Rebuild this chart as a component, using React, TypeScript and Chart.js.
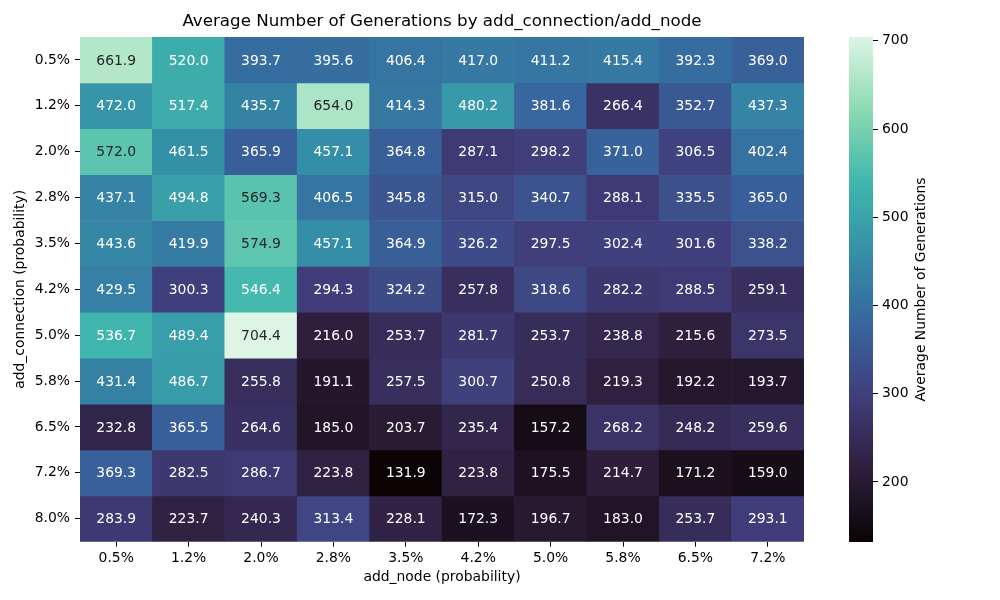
import React, { useEffect, useRef } from "react";
import { Chart, registerables } from "chart.js";

Chart.register(...registerables);

const TITLE = "Average Number of Generations by add_connection/add_node";
const X_TITLE = "add_node (probability)";
const Y_TITLE = "add_connection (probability)";
const CBAR_TITLE = "Average Number of Generations";

const addNodeLabels = ["0.5%", "1.2%", "2.0%", "2.8%", "3.5%", "4.2%", "5.0%", "5.8%", "6.5%", "7.2%"];
const addConnectionLabels = ["0.5%", "1.2%", "2.0%", "2.8%", "3.5%", "4.2%", "5.0%", "5.8%", "6.5%", "7.2%", "8.0%"];

const conn_0_5 = [661.9, 520.0, 393.7, 395.6, 406.4, 417.0, 411.2, 415.4, 392.3, 369.0];
const conn_1_2 = [472.0, 517.4, 435.7, 654.0, 414.3, 480.2, 381.6, 266.4, 352.7, 437.3];
const conn_2_0 = [572.0, 461.5, 365.9, 457.1, 364.8, 287.1, 298.2, 371.0, 306.5, 402.4];
const conn_2_8 = [437.1, 494.8, 569.3, 406.5, 345.8, 315.0, 340.7, 288.1, 335.5, 365.0];
const conn_3_5 = [443.6, 419.9, 574.9, 457.1, 364.9, 326.2, 297.5, 302.4, 301.6, 338.2];
const conn_4_2 = [429.5, 300.3, 546.4, 294.3, 324.2, 257.8, 318.6, 282.2, 288.5, 259.1];
const conn_5_0 = [536.7, 489.4, 704.4, 216.0, 253.7, 281.7, 253.7, 238.8, 215.6, 273.5];
const conn_5_8 = [431.4, 486.7, 255.8, 191.1, 257.5, 300.7, 250.8, 219.3, 192.2, 193.7];
const conn_6_5 = [232.8, 365.5, 264.6, 185.0, 203.7, 235.4, 157.2, 268.2, 248.2, 259.6];
const conn_7_2 = [369.3, 282.5, 286.7, 223.8, 131.9, 223.8, 175.5, 214.7, 171.2, 159.0];
const conn_8_0 = [283.9, 223.7, 240.3, 313.4, 228.1, 172.3, 196.7, 183.0, 253.7, 293.1];

const heatRows = [conn_0_5, conn_1_2, conn_2_0, conn_2_8, conn_3_5, conn_4_2, conn_5_0, conn_5_8, conn_6_5, conn_7_2, conn_8_0];

const colorbarTicks = [200, 300, 400, 500, 600, 700];

const allValues = heatRows.flat();
const vmin = Math.min(...allValues);
const vmax = Math.max(...allValues);

// mako colormap stops
const MAKO: [number, number, number, number][] = [
  [0.0, 11, 4, 5],
  [1 / 7, 46, 30, 59],
  [2 / 7, 65, 61, 123],
  [3 / 7, 55, 101, 158],
  [4 / 7, 52, 143, 167],
  [5 / 7, 64, 183, 173],
  [6 / 7, 139, 218, 178],
  [1.0, 222, 245, 229],
];

function makoRgb(t: number): [number, number, number] {
  t = Math.max(0, Math.min(1, t));
  for (let i = 0; i < MAKO.length - 1; i++) {
    const a = MAKO[i];
    const b = MAKO[i + 1];
    if (t <= b[0]) {
      const f = (t - a[0]) / (b[0] - a[0]);
      return [a[1] + (b[1] - a[1]) * f, a[2] + (b[2] - a[2]) * f, a[3] + (b[3] - a[3]) * f];
    }
  }
  const l = MAKO[MAKO.length - 1];
  return [l[1], l[2], l[3]];
}

function valueRgb(v: number) {
  return makoRgb((v - vmin) / (vmax - vmin));
}

function rgbCss(c: [number, number, number]) {
  return `rgb(${Math.round(c[0])},${Math.round(c[1])},${Math.round(c[2])})`;
}

function luminance(c: [number, number, number]) {
  const lin = c.map((x) => {
    const s = x / 255;
    return s <= 0.03928 ? s / 12.92 : Math.pow((s + 0.055) / 1.055, 2.4);
  });
  return 0.2126 * lin[0] + 0.7152 * lin[1] + 0.0722 * lin[2];
}

const FONT = "DejaVu Sans";
const TICK_SIZE = 13.9;

const heatLabelPlugin = {
  id: "heatLabels",
  afterDatasetsDraw(chart: any) {
    const ctx = chart.ctx;
    ctx.save();
    ctx.font = `${TICK_SIZE}px "${FONT}"`;
    ctx.textAlign = "center";
    ctx.textBaseline = "middle";
    heatRows.forEach((row, r) => {
      const meta = chart.getDatasetMeta(r);
      meta.data.forEach((el: any, c: number) => {
        const v = row[c];
        ctx.fillStyle = luminance(valueRgb(v)) > 0.408 ? "#262626" : "#ffffff";
        ctx.fillText(v.toFixed(1), el.x, (el.y + el.base) / 2 + 1);
      });
    });
    const area = chart.chartArea;
    ctx.fillStyle = "#000";
    ctx.font = `16.7px "${FONT}"`;
    ctx.fillText(TITLE, (area.left + area.right) / 2, 22);
    ctx.restore();
  },
};

const cbarTitlePlugin = {
  id: "cbarTitle",
  afterDraw(chart: any) {
    const ctx = chart.ctx;
    const area = chart.chartArea;
    ctx.save();
    ctx.font = `${TICK_SIZE}px "${FONT}"`;
    ctx.fillStyle = "#000";
    ctx.textAlign = "center";
    ctx.textBaseline = "middle";
    ctx.translate(121, (area.top + area.bottom) / 2);
    ctx.rotate(-Math.PI / 2);
    ctx.fillText(CBAR_TITLE, 0, 0);
    ctx.restore();
  },
};

export default function App() {
  const heatRef = useRef<HTMLCanvasElement>(null);
  const cbarRef = useRef<HTMLCanvasElement>(null);

  useEffect(() => {
    const font = { family: FONT, size: TICK_SIZE };
    const heat = new Chart(heatRef.current as HTMLCanvasElement, {
      type: "bar",
      data: {
        labels: addNodeLabels,
        datasets: heatRows.map((row, r) => ({
          label: addConnectionLabels[r],
          data: row.map(() => [r, r + 1]),
          backgroundColor: row.map((v) => rgbCss(valueRgb(v))),
          borderWidth: 0,
          grouped: false,
          barPercentage: 1,
          categoryPercentage: 1,
        })) as any,
      },
      options: {
        animation: false,
        responsive: false,
        devicePixelRatio: 1,
        layout: { padding: { top: 37, right: 196, left: 0, bottom: 0 } },
        plugins: { legend: { display: false }, tooltip: { enabled: false }, title: { display: false } },
        scales: {
          x: {
            type: "category",
            grid: { offset: false, drawOnChartArea: false, drawTicks: true, tickLength: 5, color: "#000", lineWidth: 1 },
            border: { display: false },
            ticks: { font, color: "#000", maxRotation: 0, autoSkip: false, padding: 3 },
            title: { display: true, text: X_TITLE, font, color: "#000", padding: { top: 0, bottom: 14.5 } },
            afterFit: (s: any) => {
              s.height = 58.3;
            },
          },
          y: {
            type: "linear",
            min: 0,
            max: heatRows.length,
            reverse: true,
            afterBuildTicks: (s: any) => {
              s.ticks = addConnectionLabels.map((_, i) => ({ value: i + 0.5 }));
            },
            grid: { drawOnChartArea: false, drawTicks: true, tickLength: 5, color: "#000", lineWidth: 1 },
            border: { display: false },
            ticks: {
              font,
              color: "#000",
              autoSkip: false,
              padding: 5,
              callback: (_v: any, i: number) => addConnectionLabels[i],
            },
            title: { display: true, text: Y_TITLE, font, color: "#000", padding: { top: 11.7, bottom: 0 } },
            afterFit: (s: any) => {
              s.width = 80;
            },
          },
        },
      } as any,
      plugins: [heatLabelPlugin],
    });

    const cbar = new Chart(cbarRef.current as HTMLCanvasElement, {
      type: "bar",
      data: {
        labels: [""],
        datasets: [
          {
            data: [[vmin, vmax]] as any,
            borderWidth: 0,
            barPercentage: 1,
            categoryPercentage: 1,
            inflateAmount: 0,
            backgroundColor: (context: any) => {
              const { chart } = context;
              const area = chart.chartArea;
              if (!area) return "#000";
              const g = chart.ctx.createLinearGradient(0, area.bottom, 0, area.top);
              MAKO.forEach((s) => g.addColorStop(s[0], `rgb(${s[1]},${s[2]},${s[3]})`));
              return g;
            },
          } as any,
        ],
      },
      options: {
        animation: false,
        responsive: false,
        devicePixelRatio: 1,
        layout: { padding: { top: 37, left: 49, bottom: 58, right: 0 } },
        plugins: { legend: { display: false }, tooltip: { enabled: false } },
        scales: {
          x: { display: false },
          y: {
            type: "linear",
            position: "right",
            min: vmin,
            max: vmax,
            afterBuildTicks: (s: any) => {
              s.ticks = colorbarTicks.map((v) => ({ value: v }));
            },
            afterFit: (s: any) => {
              s.width = 127;
            },
            grid: { drawOnChartArea: false, drawTicks: true, tickLength: 5, color: "#000", lineWidth: 1 },
            border: { display: false },
            ticks: { font, color: "#000", padding: 4 },
          },
        },
      } as any,
      plugins: [cbarTitlePlugin],
    });

    return () => {
      heat.destroy();
      cbar.destroy();
    };
  }, []);

  return (
    <div style={{ position: "fixed", left: 0, top: 0, width: 1000, height: 600, background: "#fff" }}>
      <canvas ref={heatRef} width={1000} height={600} style={{ position: "absolute", left: 0, top: 0, width: 1000, height: 600 }} />
      <canvas ref={cbarRef} width={200} height={600} style={{ position: "absolute", left: 800, top: 0, width: 200, height: 600 }} />
    </div>
  );
}
